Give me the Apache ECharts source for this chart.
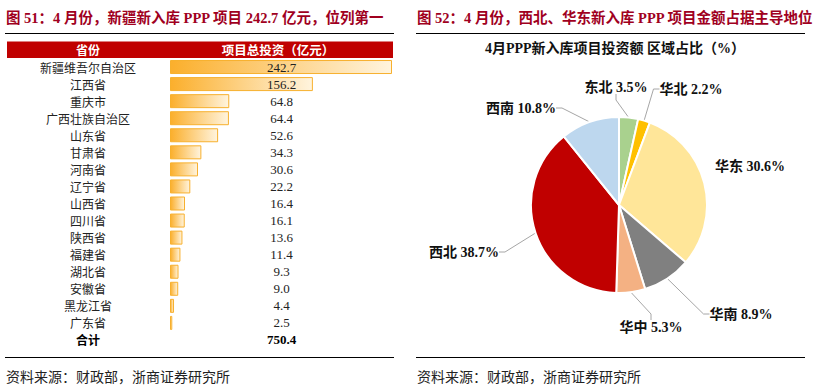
<!DOCTYPE html>
<html><head><meta charset="utf-8">
<script src="https://cdn.jsdelivr.net/npm/echarts@6/dist/echarts.min.js"></script>
<style>html,body{margin:0;padding:0;background:#fff}#c{width:823px;height:389px}</style>
</head><body><div id="c"></div>
<script>
// ---- data ----
const provinces = ['新疆维吾尔自治区','江西省','重庆市','广西壮族自治区','山东省','甘肃省','河南省','辽宁省','山西省','四川省','陕西省','福建省','湖北省','安徽省','黑龙江省','广东省'];
const investment = [242.7,156.2,64.8,64.4,52.6,34.3,30.6,22.2,16.4,16.1,13.6,11.4,9.3,9.0,4.4,2.5];
const totalLabel = '合计';
const totalValue = 750.4;
const tableHeader = ['省份','项目总投资（亿元）'];
const regions = ['东北','华北','华东','华南','华中','西北','西南'];
const regionShare = [3.5,2.2,30.6,8.9,5.3,38.7,10.8];
const leftTitle = '图 51：4 月份，新疆新入库 PPP 项目 242.7 亿元，位列第一';
const rightTitle = '图 52：4 月份，西北、华东新入库 PPP 项目金额占据主导地位';
const pieTitle = '4月PPP新入库项目投资额 区域占比（%）';
const sourceText = '资料来源：财政部，浙商证券研究所';

// ---- styles ----
const SERIF = "'Liberation Serif','Noto Sans CJK SC'";
const CJK = "'Noto Sans CJK SC'";
const regionColors = ['#A9D18E','#FFC000','#FFE699','#808080','#F4B183','#C00000','#BDD7EE'];
const labelPos = {'东北':[616,87],'华北':[691,89],'华东':[750,166],'华南':[741,314],'华中':[651,327],'西北':[464,252],'西南':[521,108]};
const TITLE_RED = '#A0001E';

const cats = provinces.concat([totalLabel]);
const valueLabels = investment.map(v => v.toFixed(1)).concat([totalValue.toFixed(1)]);

const chart = echarts.init(document.getElementById('c'), null, {renderer:'svg'});
chart.setOption({
  animation:false,
  title:[
    {text:leftTitle,left:6,top:11,padding:0,textStyle:{fontFamily:SERIF,fontSize:14.5,fontWeight:'bold',color:TITLE_RED}},
    {text:rightTitle,left:417,top:11,padding:0,textStyle:{fontFamily:SERIF,fontSize:14.5,fontWeight:'bold',color:TITLE_RED}},
    {text:pieTitle,left:615,top:41,padding:0,textAlign:'center',textStyle:{fontFamily:SERIF,fontSize:14,fontWeight:'bold',color:'#111'}},
    {text:sourceText,left:6,top:369,padding:0,textStyle:{fontFamily:CJK,fontSize:14,fontWeight:'normal',color:'#222'}},
    {text:sourceText,left:417,top:369,padding:0,textStyle:{fontFamily:CJK,fontSize:14,fontWeight:'normal',color:'#222'}}
  ],
  graphic:[
    {type:'line',shape:{x1:5,y1:33.5,x2:394,y2:33.5},style:{stroke:'#000',lineWidth:1}},
    {type:'line',shape:{x1:5,y1:357.5,x2:394,y2:357.5},style:{stroke:'#000',lineWidth:1}},
    {type:'line',shape:{x1:416,y1:33.5,x2:805,y2:33.5},style:{stroke:'#000',lineWidth:1}},
    {type:'line',shape:{x1:416,y1:357.5,x2:805,y2:357.5},style:{stroke:'#000',lineWidth:1}},
    {type:'rect',shape:{x:7,y:41.5,width:386,height:16.5},style:{fill:'#C00000'}},
    {type:'text',x:88,y:49.5,style:{text:tableHeader[0],fill:'#fff',font:"bold 12px "+CJK,textAlign:'center',textVerticalAlign:'middle'}},
    {type:'text',x:278,y:49.5,style:{text:tableHeader[1],fill:'#fff',font:"bold 12.5px "+CJK,textAlign:'center',textVerticalAlign:'middle'}}
  ],
  grid:{left:170,right:431,top:58.5,height:290,containLabel:false},
  xAxis:{type:'value',min:0,max:'dataMax',show:false},
  yAxis:[
    {type:'category',inverse:true,data:cats,axisLine:{show:false},axisTick:{show:false},splitLine:{show:false},
     axisLabel:{align:'center',margin:82,fontFamily:CJK,fontSize:12,lineHeight:14,color:'#222',
       formatter:(v)=> v===totalLabel ? '{b|'+v+'}' : v,
       rich:{b:{fontFamily:CJK,fontSize:12,lineHeight:14,fontWeight:'bold',color:'#000'}}}},
    {type:'category',inverse:true,data:valueLabels,position:'left',offset:-111.5,z:5,axisLine:{show:false},axisTick:{show:false},splitLine:{show:false},
     axisLabel:{align:'center',margin:0,fontFamily:SERIF,fontSize:13,lineHeight:15,color:'#222',
       formatter:(v,i)=> i===valueLabels.length-1 ? '{b|'+v+'}' : v,
       rich:{b:{fontFamily:SERIF,fontSize:13,lineHeight:15,fontWeight:'bold',color:'#000'}}}}
  ],
  series:[
    {type:'bar',xAxisIndex:0,yAxisIndex:0,barWidth:14,z:2,
     data:investment.concat(['-']),
     itemStyle:{borderColor:'#F7B02E',borderWidth:1,
       color:new echarts.graphic.LinearGradient(0,0,1,0,[{offset:0,color:'#FBAF2C'},{offset:1,color:'#FFF4DE'}])}},
    {type:'pie',center:[619,205],radius:[0,88],startAngle:90,clockwise:true,
     itemStyle:{borderColor:'#fff',borderWidth:2},
     data:regions.map((r,i)=>({name:r,value:regionShare[i],itemStyle:{color:regionColors[i]},
        labelLine:{show:r!=='华东'}})),
     label:{show:true,position:'outside',fontFamily:SERIF,fontSize:14,fontWeight:'bold',color:'#111',
       formatter:(p)=>p.name+' '+p.value.toFixed(1)+'%'},
     labelLine:{show:true,length:12,length2:6,lineStyle:{color:'#A6A6A6',width:1}},
     labelLayout:(params)=>{const p=labelPos[regions[params.dataIndex]];return {x:p[0],y:p[1],align:'center',verticalAlign:'middle'};}
    }
  ]
});
</script></body></html>
